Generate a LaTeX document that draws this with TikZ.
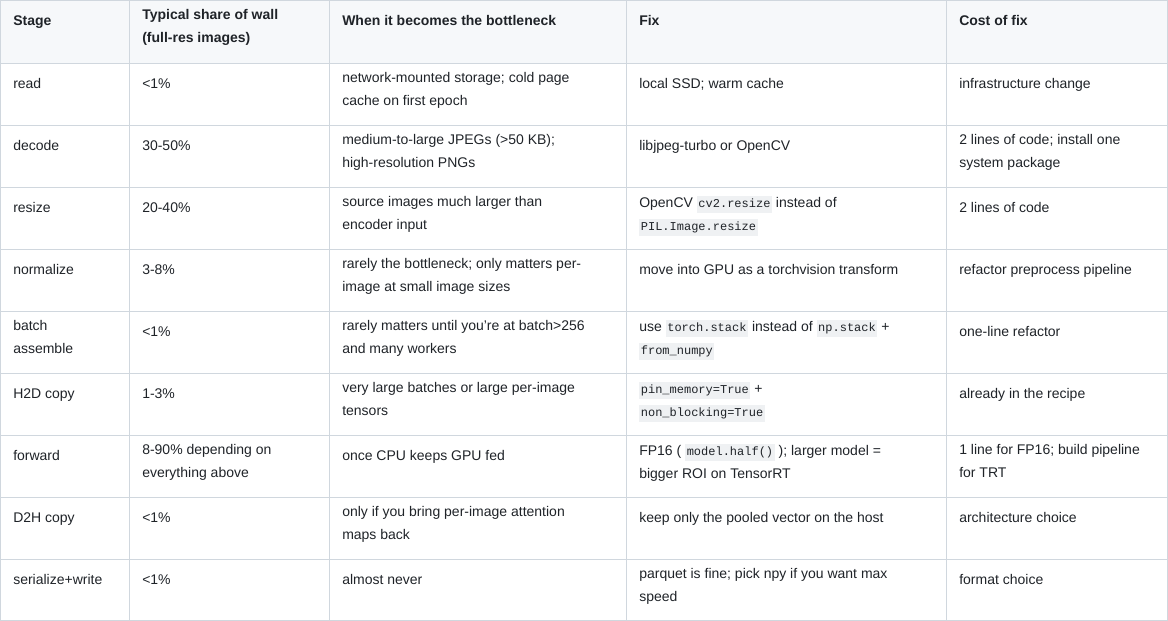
\documentclass[tikz,border=0pt]{standalone}
\usepackage{fontspec}
\setmainfont{Liberation Sans}
\setmonofont{Liberation Mono}
\definecolor{gridline}{HTML}{D0D7DE}
\definecolor{headbg}{HTML}{F6F8FA}
\definecolor{codebg}{HTML}{EFF1F3}
\definecolor{inktext}{HTML}{1F2328}
\newcommand{\cd}[1]{{\setlength{\fboxsep}{1.2pt}\colorbox{codebg}{\ttfamily\fontsize{9}{10}\selectfont\strut #1}}}
\tikzset{
  cell/.style={anchor=north west, yshift=12.075pt, inner sep=0pt, align=left, text=inktext,
    font=\fontsize{10.5}{17.25}\selectfont,
    execute at begin node={\setlength{\baselineskip}{17.25pt}\strut}},
  head/.style={cell, font=\fontsize{10.5}{17.25}\selectfont\bfseries}
}
\begin{document}
\begin{tikzpicture}[x=0.75pt,y=-0.75pt]
  \useasboundingbox (0,0) rectangle (1168,621);
  \fill[headbg] (0,0) rectangle (1168,63);
  % Gitterlinien
  \foreach \ypos in {63,125,...,559}
    \draw[gridline] (0,\ypos) -- (1168,\ypos);
  \foreach \xpos in {129,329,626,946}
    \draw[gridline] (\xpos,0) -- (\xpos,621);
  \draw[gridline] (0.5,0.5) rectangle (1167.5,620.5);

  % Kopfzeile
  \node[head] (h1) at (13,25) {Stage};
  \node[head] (h2) at (142,25) {Typical share of wall\\(full-res images)};
  \node[head] (h3) at (342,25) {When it becomes the bottleneck};
  \node[head] (h4) at (639,25) {Fix};
  \node[head] (h5) at (959,25) {Cost of fix};

  % Zeilen
  \node[cell] (r1a) at (13,88) {read};
  \node[cell] (r1b) at (142,88) {<1\%};
  \node[cell] (r1c) at (342,88) {network-mounted storage; cold page\\cache on first epoch};
  \node[cell] (r1d) at (639,88) {local SSD; warm cache};
  \node[cell] (r1e) at (959,88) {infrastructure change};

  \node[cell] (r2a) at (13,150) {decode};
  \node[cell] (r2b) at (142,150) {30-50\%};
  \node[cell] (r2c) at (342,150) {medium-to-large JPEGs (>50 KB);\\high-resolution PNGs};
  \node[cell] (r2d) at (639,150) {libjpeg-turbo or OpenCV};
  \node[cell] (r2e) at (959,150) {2 lines of code; install one\\system package};

  \node[cell] (r3a) at (13,212) {resize};
  \node[cell] (r3b) at (142,212) {20-40\%};
  \node[cell] (r3c) at (342,212) {source images much larger than\\encoder input};
  \node[cell] (r3d) at (639,212) {OpenCV \cd{cv2.resize} instead of\\\cd{PIL.Image.resize}};
  \node[cell] (r3e) at (959,212) {2 lines of code};

  \node[cell] (r4a) at (13,274) {normalize};
  \node[cell] (r4b) at (142,274) {3-8\%};
  \node[cell] (r4c) at (342,274) {rarely the bottleneck; only matters per-\\image at small image sizes};
  \node[cell] (r4d) at (639,274) {move into GPU as a torchvision transform};
  \node[cell] (r4e) at (959,274) {refactor preprocess pipeline};

  \node[cell] (r5a) at (13,336) {batch\\assemble};
  \node[cell] (r5b) at (142,336) {<1\%};
  \node[cell] (r5c) at (342,336) {rarely matters until you're at batch>256\\and many workers};
  \node[cell] (r5d) at (639,336) {use \cd{torch.stack} instead of \cd{np.stack} +\\\cd{from\_numpy}};
  \node[cell] (r5e) at (959,336) {one-line refactor};

  \node[cell] (r6a) at (13,398) {H2D copy};
  \node[cell] (r6b) at (142,398) {1-3\%};
  \node[cell] (r6c) at (342,398) {very large batches or large per-image\\tensors};
  \node[cell] (r6d) at (639,398) {\cd{pin\_memory=True} +\\\cd{non\_blocking=True}};
  \node[cell] (r6e) at (959,398) {already in the recipe};

  \node[cell] (r7a) at (13,460) {forward};
  \node[cell] (r7b) at (142,460) {8-90\% depending on\\everything above};
  \node[cell] (r7c) at (342,460) {once CPU keeps GPU fed};
  \node[cell] (r7d) at (639,460) {FP16 ( \cd{model.half()} ); larger model =\\bigger ROI on TensorRT};
  \node[cell] (r7e) at (959,460) {1 line for FP16; build pipeline\\for TRT};

  \node[cell] (r8a) at (13,522) {D2H copy};
  \node[cell] (r8b) at (142,522) {<1\%};
  \node[cell] (r8c) at (342,522) {only if you bring per-image attention\\maps back};
  \node[cell] (r8d) at (639,522) {keep only the pooled vector on the host};
  \node[cell] (r8e) at (959,522) {architecture choice};

  \node[cell] (r9a) at (13,584) {serialize+write};
  \node[cell] (r9b) at (142,584) {<1\%};
  \node[cell] (r9c) at (342,584) {almost never};
  \node[cell] (r9d) at (639,584) {parquet is fine; pick npy if you want max\\speed};
  \node[cell] (r9e) at (959,584) {format choice};
\end{tikzpicture}
\end{document}
